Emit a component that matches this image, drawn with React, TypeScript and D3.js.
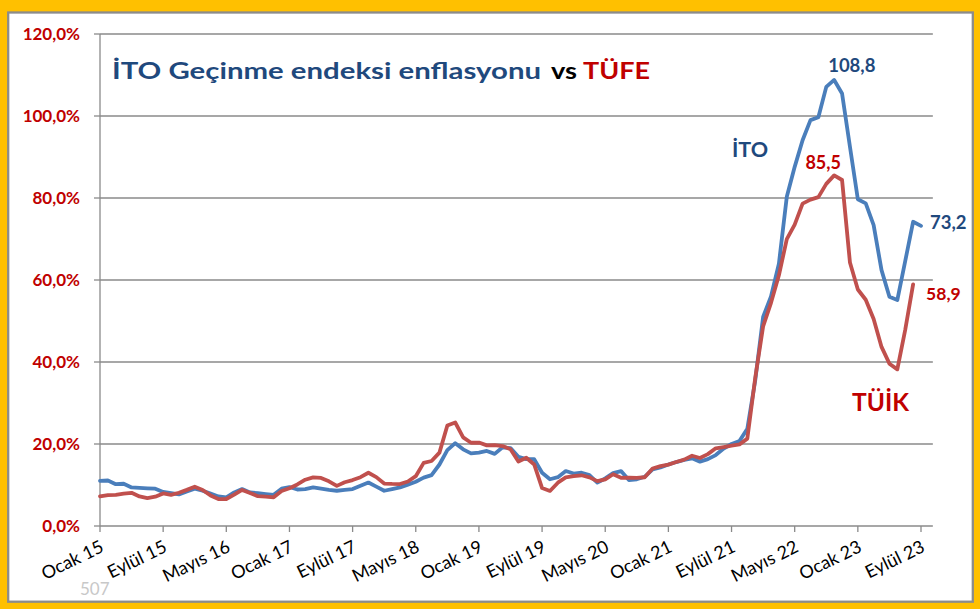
import React from 'react';
import * as d3 from 'd3';

// İTO Geçinme endeksi yıllık enflasyonu (%), Ocak 2015 – Eylül 2023 (aylık)
const itoValues: number[] = [
  11.0, 11.1, 10.2, 10.3, 9.4, 9.3, 9.2, 9.1, 8.3, 8.0, 7.7, 8.4,
  9.1, 8.6, 7.9, 7.2, 7.0, 8.2, 9.0, 8.2, 8.0, 7.8, 7.6, 9.1,
  9.5, 8.9, 9.0, 9.4, 9.1, 8.8, 8.6, 8.8, 9.0, 9.8, 10.6, 9.6,
  8.6, 9.0, 9.4, 10.1, 10.8, 11.8, 12.4, 15.0, 18.5, 20.2, 18.7, 17.7,
  17.9, 18.3, 17.6, 19.2, 19.0, 16.9, 16.3, 16.3, 13.0, 11.4, 11.9, 13.4,
  12.8, 13.0, 12.4, 10.6, 11.6, 12.9, 13.4, 11.2, 11.4, 12.0, 13.8, 14.3,
  15.0, 15.6, 16.1, 16.5, 15.7, 16.3, 17.3, 18.9, 20.0, 20.7, 23.7, 35.5,
  51.0, 56.0, 64.0, 80.3, 87.6, 94.1, 99.0, 99.7, 107.1, 108.8, 105.5, 92.5,
  79.7, 78.7, 73.4, 62.4, 55.9, 55.1, 64.6, 74.2, 73.2,
];

// TÜFE yıllık enflasyonu (%), Ocak 2015 – Ağustos 2023
const tufeValues: number[] = [
  7.24, 7.55, 7.61, 7.91, 8.09, 7.20, 6.81, 7.14, 7.95, 7.58, 8.10, 8.81,
  9.58, 8.78, 7.46, 6.57, 6.58, 7.64, 8.79, 8.05, 7.28, 7.16, 7.00, 8.53,
  9.22, 10.13, 11.29, 11.87, 11.72, 10.90, 9.79, 10.68, 11.20, 11.90, 12.98, 11.92,
  10.35, 10.26, 10.23, 10.85, 12.15, 15.39, 15.85, 17.90, 24.52, 25.24, 21.62, 20.30,
  20.35, 19.67, 19.71, 19.50, 18.71, 15.72, 16.65, 15.01, 9.26, 8.55, 10.56, 11.84,
  12.15, 12.37, 11.86, 10.94, 11.39, 12.62, 11.76, 11.77, 11.75, 11.89, 14.03, 14.60,
  14.97, 15.61, 16.19, 17.14, 16.59, 17.53, 18.95, 19.25, 19.58, 19.89, 21.31, 36.08,
  48.69, 54.44, 61.14, 69.97, 73.50, 78.62, 79.60, 80.21, 83.45, 85.51, 84.39, 64.27,
  57.68, 55.18, 50.51, 43.68, 39.59, 38.21, 47.83, 58.94,
];

const tickLabels: string[] = [
  'Ocak 15', 'Eylül 15', 'Mayıs 16', 'Ocak 17', 'Eylül 17', 'Mayıs 18', 'Ocak 19',
  'Eylül 19', 'Mayıs 20', 'Ocak 21', 'Eylül 21', 'Mayıs 22', 'Ocak 23', 'Eylül 23',
];
const tickStep = 8; // months between labelled ticks
const yTicks: number[] = [0, 20, 40, 60, 80, 100, 120];

const FONT = "Lato, 'Open Sans', sans-serif";
const BLUE_LINE = '#4A7EBB';
const RED_LINE = '#C0504D';
const BLUE_TEXT = '#1F497D';
const RED_TEXT = '#C00000';
const GRID = '#8A8A8A';

export default function App() {
  const W = 980;
  const H = 609;
  const lastIndex = itoValues.length - 1;

  const x = d3.scaleLinear().domain([0, lastIndex]).range([100, 921]);
  const y = d3.scaleLinear().domain([0, 120]).range([526, 34]);
  const axisRight = x(lastIndex + 1.5);

  const line = d3
    .line<number>()
    .x((_, i) => x(i))
    .y((d) => y(d))
    .curve(d3.curveLinear);

  const pct = (v: number) => d3.format('.1f')(v).replace('.', ',') + '%';
  const dec = (v: number) => d3.format('.1f')(v).replace('.', ',');

  const itoMaxIdx = d3.maxIndex(itoValues);
  const tufeMaxIdx = d3.maxIndex(tufeValues);
  const itoLastIdx = itoValues.length - 1;
  const tufeLastIdx = tufeValues.length - 1;

  return (
    <svg
      width={W}
      height={H}
      viewBox={`0 0 ${W} ${H}`}
      style={{ position: 'absolute', left: 0, top: 0, display: 'block' }}
      fontFamily={FONT}
    >
      <rect x={0} y={0} width={W} height={H} fill="#FFC000" />
      <rect x={8.2} y={12.5} width={964.6} height={589.2} fill="#FFFFFF" stroke="#8C8C8C" strokeWidth={2.3} />

      {/* gridlines + y labels */}
      {yTicks.map((t) => (
        <g key={t}>
          {t > 0 && (
            <line x1={x(0)} x2={axisRight} y1={y(t)} y2={y(t)} stroke={GRID} strokeWidth={1.3} />
          )}
          <line x1={x(0) - 6} x2={x(0)} y1={y(t)} y2={y(t)} stroke={GRID} strokeWidth={1.3} />
          <text
            x={80}
            y={y(t)}
            dy="0.36em"
            textAnchor="end"
            fontSize={17}
            fontWeight="bold"
            fill={RED_TEXT}
          >
            {pct(t)}
          </text>
        </g>
      ))}

      {/* axes */}
      <line x1={x(0)} x2={x(0)} y1={y(120)} y2={y(0)} stroke={GRID} strokeWidth={1.3} />
      <line x1={x(0)} x2={axisRight} y1={y(0)} y2={y(0)} stroke={GRID} strokeWidth={1.3} />

      {tickLabels.map((lab, k) => {
        const xi = x(k * tickStep);
        return (
          <g key={lab}>
            <line x1={xi} x2={xi} y1={y(0)} y2={y(0) + 6} stroke={GRID} strokeWidth={1.3} />
            <text
              transform={`translate(${xi + 5},${y(0) + 25}) rotate(-26)`}
              textAnchor="end"
              fontSize={18}
              fill="#000000"
            >
              {lab}
            </text>
          </g>
        );
      })}

      {/* series */}
      <path d={line(itoValues) || ''} fill="none" stroke={BLUE_LINE} strokeWidth={3.8} strokeLinejoin="round" strokeLinecap="round" />
      <path d={line(tufeValues) || ''} fill="none" stroke={RED_LINE} strokeWidth={3.8} strokeLinejoin="round" strokeLinecap="round" />

      {/* title */}
      <text x={112} y={79} fontSize={22.5} fontWeight="bold" fill={BLUE_TEXT} textLength={429} lengthAdjust="spacingAndGlyphs">
        {'İTO Geçinme endeksi enflasyonu'}
      </text>
      <text x={551} y={79} fontSize={22.5} fontWeight="bold" fill="#000000" textLength={26} lengthAdjust="spacingAndGlyphs">
        {'vs'}
      </text>
      <text x={583} y={79} fontSize={22.5} fontWeight="bold" fill={RED_TEXT} textLength={67} lengthAdjust="spacingAndGlyphs">
        {'TÜFE'}
      </text>

      {/* series labels */}
      <text x={732} y={157} fontSize={21.5} fontWeight="bold" fill={BLUE_TEXT}>İTO</text>
      <text x={852} y={411} fontSize={24.5} fontWeight="bold" fill={RED_TEXT}>TÜİK</text>

      {/* data labels */}
      <text x={x(itoMaxIdx) - 6} y={y(itoValues[itoMaxIdx]) - 8} fontSize={18.5} fontWeight="bold" fill={BLUE_TEXT}>
        {dec(itoValues[itoMaxIdx])}
      </text>
      <text x={x(tufeMaxIdx) - 11} y={y(tufeValues[tufeMaxIdx]) - 6} textAnchor="middle" fontSize={18} fontWeight="bold" fill={RED_TEXT}>
        {dec(tufeValues[tufeMaxIdx])}
      </text>
      <text x={x(itoLastIdx) + 9} y={y(itoValues[itoLastIdx]) + 3.5} fontSize={18.5} fontWeight="bold" fill={BLUE_TEXT}>
        {dec(itoValues[itoLastIdx])}
      </text>
      <text x={x(tufeLastIdx) + 13} y={y(tufeValues[tufeLastIdx]) + 15.5} fontSize={17.5} fontWeight="bold" fill={RED_TEXT}>
        {dec(tufeValues[tufeLastIdx])}
      </text>

      {/* footer */}
      <text x={80} y={595} fontSize={17} fill="#C8C8C8">507</text>
    </svg>
  );
}
